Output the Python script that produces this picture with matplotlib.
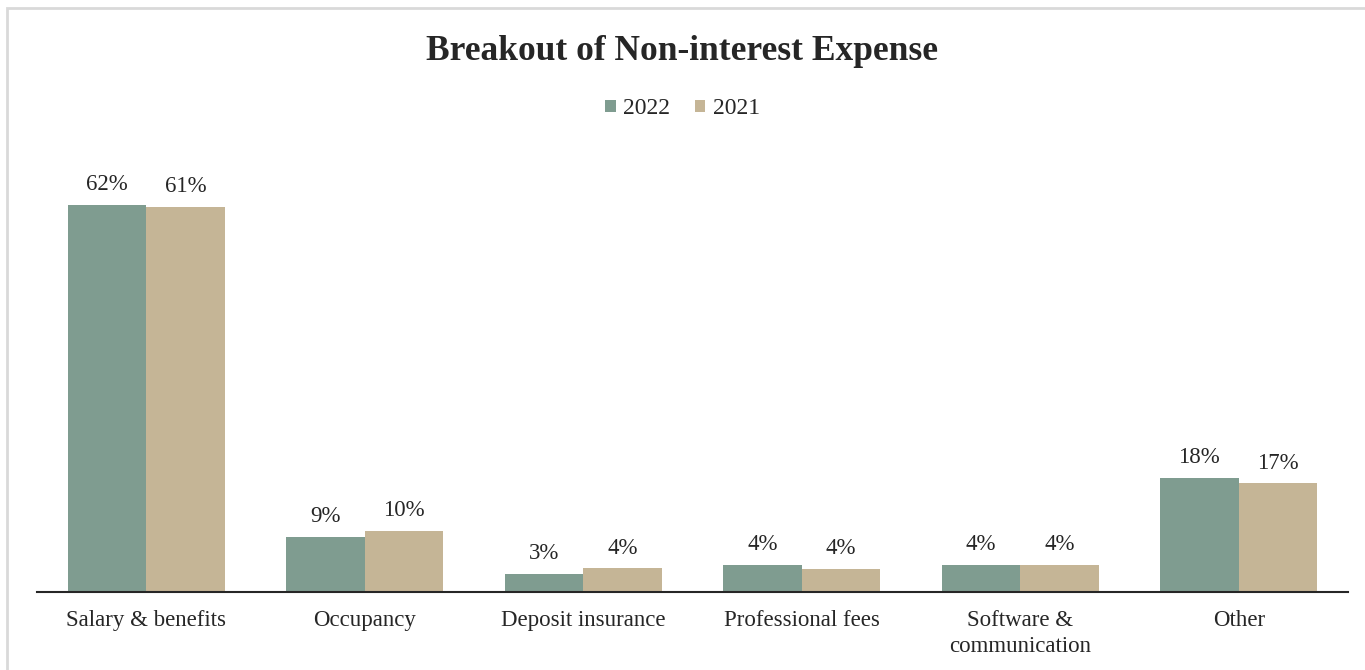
import matplotlib.pyplot as plt
import matplotlib.patches as mpatches
import numpy as np

categories = ["Salary & benefits", "Occupancy", "Deposit insurance",
              "Professional fees", "Software &\ncommunication", "Other"]
vals_2022 = [62.0, 8.8, 2.9, 4.4, 4.3, 18.3]
vals_2021 = [61.7, 9.8, 3.8, 3.7, 4.3, 17.4]
labels_2022 = ["62%", "9%", "3%", "4%", "4%", "18%"]
labels_2021 = ["61%", "10%", "4%", "4%", "4%", "17%"]

green = "#7F9C90"
tan = "#C5B596"
txt = "#262626"

plt.rcParams['font.family'] = ['Liberation Serif', 'DejaVu Serif']

fig = plt.figure(figsize=(13.65, 6.7), dpi=100)
ax = fig.add_axes([37 / 1365, 1 - 592 / 670, 1311 / 1365, 432 / 670])

x = np.arange(len(categories))
w = 0.36
b1 = ax.bar(x - w / 2, vals_2022, w, color=green, label="2022")
b2 = ax.bar(x + w / 2, vals_2021, w, color=tan, label="2021")

for bars, labs in ((b1, labels_2022), (b2, labels_2021)):
    for r, lab in zip(bars, labs):
        ax.annotate(lab, (r.get_x() + r.get_width() / 2, r.get_height()),
                    xytext=(0, 7), textcoords="offset points",
                    ha="center", va="bottom", fontsize=16.5, color=txt)

ax.set_xlim(-0.5, len(categories) - 0.5)
ax.set_ylim(0, 69.2)
ax.set_yticks([])
ax.set_xticks(x)
ax.set_xticklabels(categories, fontsize=16.5, color=txt, linespacing=1.3)
ax.tick_params(axis="x", length=0, pad=13)
for s in ("top", "right", "left"):
    ax.spines[s].set_visible(False)
ax.spines["bottom"].set_linewidth(1.5)
ax.spines["bottom"].set_color("#262626")

fig.text(0.5, 1 - 52 / 670, "Breakout of Non-interest Expense", ha="center",
         va="center", fontsize=25.5, fontweight="bold", color=txt)

fig.legend(handles=[b1, b2], loc="center", bbox_to_anchor=(0.5, 1 - 109 / 670),
           ncol=2, frameon=False, fontsize=17, handlelength=0.45,
           handleheight=0.45, handletextpad=0.3, columnspacing=1.05,
           labelcolor=txt)

fig.patches.append(mpatches.Rectangle((7 / 1365, -0.1), 1.2, 1 - 8 / 670 + 0.1,
                                      transform=fig.transFigure, fill=False,
                                      edgecolor="#D9D9D9", linewidth=2))

fig.savefig("out.png", dpi=100)
